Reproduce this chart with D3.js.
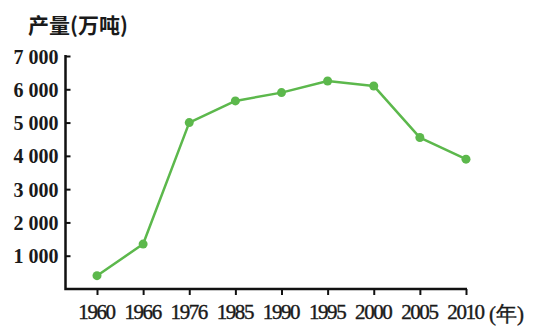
<!DOCTYPE html>
<html>
<head>
<meta charset="utf-8">
<script src="https://cdn.jsdelivr.net/npm/d3@7"></script>
<style>
  html, body { margin: 0; padding: 0; background: #fff; }
  svg { display: block; }
</style>
</head>
<body>
<svg id="chart" width="534" height="326"></svg>
<script>
// Annual output (10,000 tonnes) by year
const years = ["1960", "1966", "1976", "1985", "1990", "1995", "2000", "2005", "2010"];
const output = [400, 1350, 5000, 5650, 5900, 6250, 6100, 4550, 3900];
const yTicks = [1000, 2000, 3000, 4000, 5000, 6000, 7000];
const yTitle = "产量(万吨)";
const xUnit = "(年)";

const svg = d3.select("#chart");
const plotLeft = 65.5, plotBottom = 289, plotTop = 56, plotRight = 466;

const x = d3.scalePoint().domain(years).range([97, plotRight]);
const y = d3.scaleLinear().domain([0, 7000]).range([plotBottom, plotTop]);

const fmt = d3.formatLocale({ decimal: ".", thousands: " ", grouping: [3], currency: ["", ""] }).format(",d");

const serif = "'Liberation Serif', 'DejaVu Serif', serif";
const ink = "#1a1a1a";

// Y axis: ticks point inward, labels on the left
const yAxis = svg.append("g")
  .attr("transform", `translate(${plotLeft},0)`)
  .call(d3.axisLeft(y).tickValues(yTicks).tickFormat(fmt).tickSize(-5).tickPadding(7));
yAxis.select(".domain").remove();
yAxis.selectAll(".tick line").attr("stroke", "#111").attr("stroke-width", 2);
yAxis.selectAll(".tick text")
  .attr("font-family", serif).attr("font-size", 20).attr("font-weight", "bold")
  .attr("fill", ink).attr("dy", "0.35em");

// X axis: ticks point down
const xAxis = svg.append("g")
  .attr("transform", `translate(0,${plotBottom})`)
  .call(d3.axisBottom(x).tickSize(6).tickPadding(9));
xAxis.select(".domain").remove();
xAxis.selectAll(".tick line").attr("stroke", "#111").attr("stroke-width", 2);
xAxis.selectAll(".tick text")
  .attr("font-family", serif).attr("font-size", 21)
  .attr("letter-spacing", "-1.4px")
  .attr("fill", ink).attr("stroke", ink).attr("stroke-width", 0.4)
  .attr("dx", "-1");

// Axis lines
svg.append("path")
  .attr("d", `M${plotLeft},${plotTop - 1}V${plotBottom}H${plotRight + 1}`)
  .attr("fill", "none").attr("stroke", "#111").attr("stroke-width", 2.5);

// Unit labels
svg.append("text")
  .attr("x", 489).attr("y", plotBottom + 32)
  .attr("font-family", serif).attr("font-size", 21)
  .attr("fill", ink).attr("stroke", ink).attr("stroke-width", 0.4)
  .text(xUnit);

svg.append("text")
  .attr("x", 28).attr("y", 33)
  .attr("font-family", "'Noto Sans CJK SC', sans-serif").attr("font-size", 21)
  .attr("font-weight", "bold").attr("fill", ink)
  .text(yTitle);

// Output line and markers
const color = "#5cb84c";
const line = d3.line().x((d, i) => x(years[i])).y(d => y(d));
svg.append("path")
  .datum(output)
  .attr("d", line)
  .attr("fill", "none").attr("stroke", color).attr("stroke-width", 2.5)
  .attr("stroke-linejoin", "round");

svg.selectAll("circle.pt")
  .data(output)
  .join("circle")
  .attr("class", "pt")
  .attr("cx", (d, i) => x(years[i]))
  .attr("cy", d => y(d))
  .attr("r", 4.5)
  .attr("fill", color);
</script>
</body>
</html>
